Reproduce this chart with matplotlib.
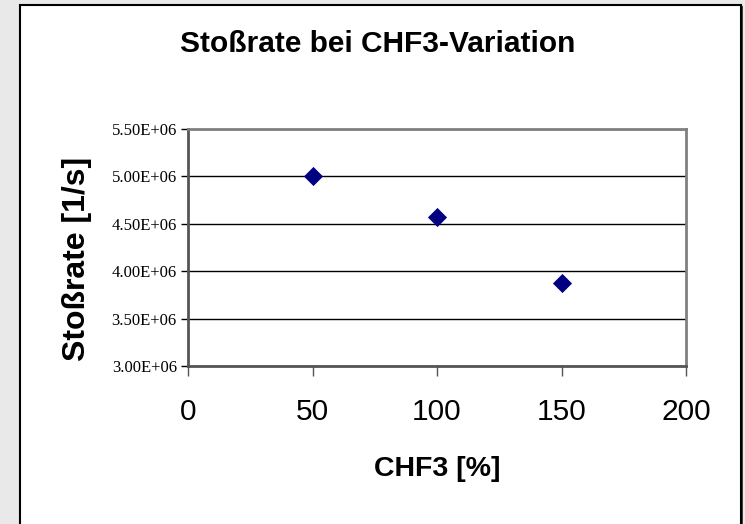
import matplotlib.pyplot as plt
from matplotlib.patches import Rectangle

# data
chf3 = [50, 100, 150]
rate = [5.00e6, 4.57e6, 3.88e6]
y_ticks = [3.0e6, 3.5e6, 4.0e6, 4.5e6, 5.0e6, 5.5e6]
x_ticks = [0, 50, 100, 150, 200]

W, H = 745, 524
fig = plt.figure(figsize=(W / 100, H / 100), dpi=100)
fig.patch.set_facecolor('#e9e9e9')

# white chart area with border (runs off the bottom)
frame = Rectangle((20 / W, -0.05), 721 / W, 1.05 - 5 / H, transform=fig.transFigure,
                  facecolor='white', edgecolor='black', lw=1.5, zorder=-2)
fig.patches.append(frame)
shadow = Rectangle((741.5 / W, -0.05), 1.5 / W, 1.05 - 6 / H, transform=fig.transFigure,
                   facecolor='#404040', edgecolor='none', zorder=-2)
fig.patches.append(shadow)

ax = fig.add_axes([188 / W, 1 - 366 / H, (686 - 188) / W, (366 - 129) / H])
ax.set_facecolor('white')

ax.scatter(chf3, rate, marker='D', s=95, color='#000080', zorder=3, linewidths=0)

ax.set_xlim(0, 200)
ax.set_ylim(3.0e6, 5.5e6)
ax.set_xticks(x_ticks)
ax.set_yticks(y_ticks)
ax.set_xticklabels([str(t) for t in x_ticks], fontsize=21.5, family='Liberation Sans')
ax.set_yticklabels(['%.2fE+06' % (t / 1e6) for t in y_ticks], fontsize=12,
                   family='Liberation Serif')

ax.yaxis.grid(True, color='black', lw=1)
ax.set_axisbelow(True)
for side in ['left', 'bottom']:
    ax.spines[side].set_color('#555555')
    ax.spines[side].set_linewidth(2)
for side in ['top', 'right']:
    ax.spines[side].set_color('#808080')
    ax.spines[side].set_linewidth(2)
ax.tick_params(axis='y', length=5, width=1, color='black', pad=3)
ax.tick_params(axis='x', length=7, width=1, color='#555555', pad=16)

# axis titles and chart title
fig.text(437 / W, 1 - 469 / H, 'CHF3 [%]', fontsize=20.5, fontweight='bold',
         family='Liberation Sans', ha='center', va='center')
fig.text(77 / W, 1 - 259 / H, 'Stoßrate [1/s]', fontsize=23, fontweight='bold',
         family='Liberation Sans', ha='center', va='center', rotation=90)
fig.text(378 / W, 1 - 44 / H, 'Stoßrate bei CHF3-Variation', fontsize=21.5, fontweight='bold',
         family='Liberation Sans', ha='center', va='center')

fig.savefig('out.png', dpi=100, facecolor=fig.get_facecolor())
